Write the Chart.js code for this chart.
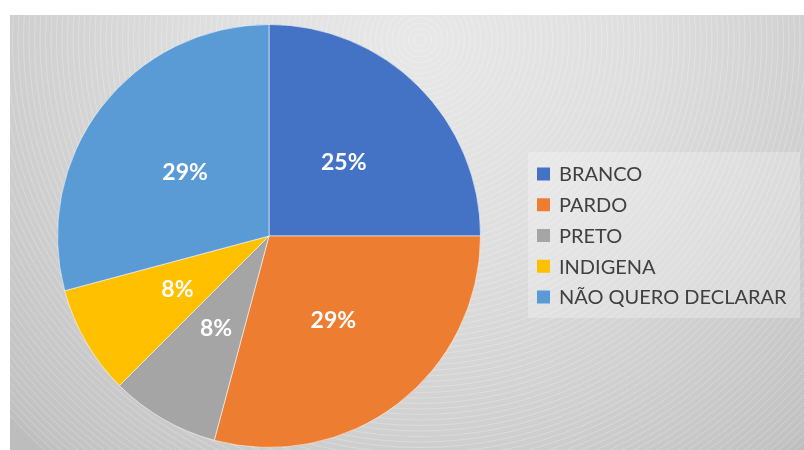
<!DOCTYPE html>
<html>
<head>
<meta charset="utf-8">
<script src="https://cdn.jsdelivr.net/npm/chart.js@4"></script>
<style>
  html, body { margin: 0; padding: 0; background: #ffffff; }
  #wrap { width: 804px; height: 450px; }
</style>
</head>
<body>
<div id="wrap"><canvas id="c" width="804" height="450"></canvas></div>
<script>
// Respondents by declared colour/race
const categories = ['BRANCO', 'PARDO', 'PRETO', 'INDIGENA', 'NÃO QUERO DECLARAR'];
const counts = [6, 7, 2, 2, 7];
const percentLabels = ['25%', '29%', '8%', '8%', '29%'];
const sliceColors = ['#4472C4', '#ED7D31', '#A5A5A5', '#FFC000', '#5B9BD5'];

const FONT = 'Lato, "Open Sans", sans-serif';

// Panel background: soft radial gradient with faint concentric rings
const panelBackground = {
  id: 'panelBackground',
  beforeDraw(chart) {
    const ctx = chart.ctx;
    const x0 = 10, y0 = 15, x1 = chart.width, y1 = chart.height;
    ctx.save();
    ctx.beginPath();
    ctx.rect(x0, y0, x1 - x0, y1 - y0);
    ctx.clip();
    const cx = 420, cy = 40, R = 560;
    const g = ctx.createRadialGradient(cx, cy, 0, cx, cy, R);
    g.addColorStop(0, '#e8e8e8');
    g.addColorStop(0.4, '#dedede');
    g.addColorStop(0.72, '#cfcfcf');
    g.addColorStop(0.97, '#c2c2c2');
    g.addColorStop(1, '#bdbdbd');
    ctx.fillStyle = g;
    ctx.fillRect(x0, y0, x1 - x0, y1 - y0);
    ctx.strokeStyle = 'rgba(255,255,255,0.3)';
    ctx.lineWidth = 0.8;
    for (let r = 6; r < R; r += 5.5) {
      ctx.beginPath();
      ctx.arc(cx, cy, r, 0, Math.PI * 2);
      ctx.stroke();
    }
    ctx.restore();
  }
};

// Percentage labels at the middle of each slice
const sliceLabels = {
  id: 'sliceLabels',
  afterDatasetsDraw(chart) {
    const ctx = chart.ctx;
    const meta = chart.getDatasetMeta(0);
    ctx.save();
    ctx.font = 'bold 23px ' + FONT;
    ctx.fillStyle = '#ffffff';
    ctx.textAlign = 'center';
    ctx.textBaseline = 'middle';
    meta.data.forEach((arc, i) => {
      const p = arc.tooltipPosition();
      ctx.fillText(percentLabels[i], p.x, p.y + 1);
    });
    ctx.restore();
  }
};

// Legend block on the right
const sideLegend = {
  id: 'sideLegend',
  afterDraw(chart) {
    const ctx = chart.ctx;
    ctx.save();
    ctx.fillStyle = 'rgba(255,255,255,0.25)';
    ctx.fillRect(528, 152, 272, 166);
    ctx.font = '20px ' + FONT;
    ctx.textBaseline = 'middle';
    ctx.textAlign = 'left';
    const top = 174, step = 30.75;
    chart.data.labels.forEach((lab, i) => {
      const y = top + i * step;
      ctx.fillStyle = chart.data.datasets[0].backgroundColor[i];
      ctx.fillRect(537, y - 6.5, 13, 13);
      ctx.fillStyle = '#404040';
      ctx.fillText(lab, 559, y + 1);
    });
    ctx.restore();
  }
};

new Chart(document.getElementById('c'), {
  type: 'pie',
  data: {
    labels: categories,
    datasets: [{
      data: counts,
      backgroundColor: sliceColors,
      borderColor: 'rgba(255,255,255,0.55)',
      borderWidth: 1
    }]
  },
  options: {
    responsive: false,
    animation: false,
    layout: { padding: { left: 56, right: 322, top: 24, bottom: 2 } },
    plugins: {
      legend: { display: false },
      tooltip: { enabled: false }
    }
  },
  plugins: [panelBackground, sliceLabels, sideLegend]
});
</script>
</body>
</html>
